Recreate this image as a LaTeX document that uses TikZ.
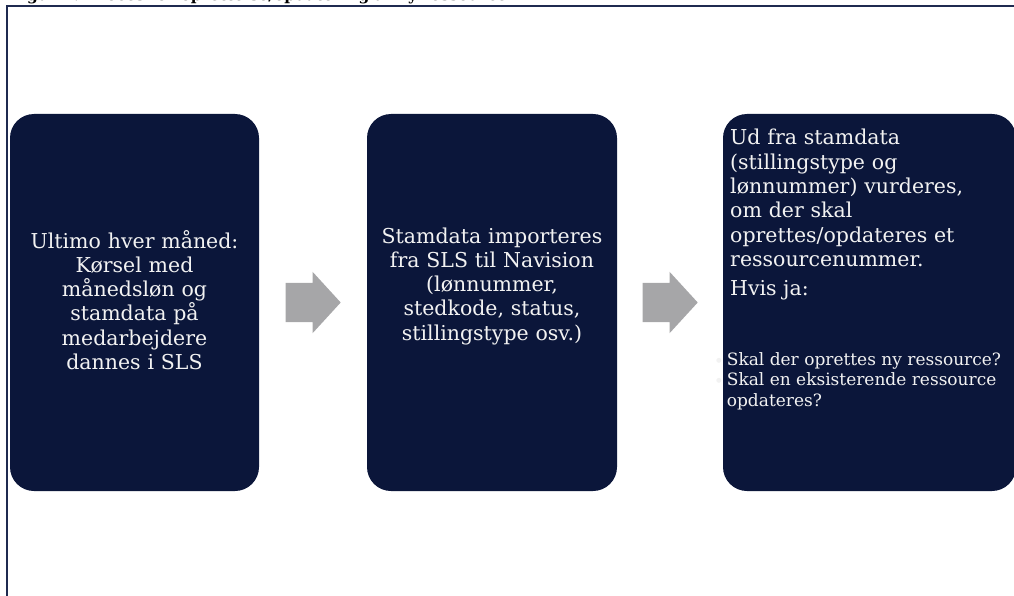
\documentclass[tikz,border=0pt]{standalone}
\usepackage{fontspec}
\setmainfont{DejaVu Serif}
\newfontfamily\symfont{DejaVu Sans}
\usetikzlibrary{shapes.arrows,calc}
\definecolor{boxfill}{HTML}{0B163A}
\definecolor{framecol}{HTML}{1F2A50}
\definecolor{arrowcol}{HTML}{A6A6A8}
\definecolor{txtcol}{HTML}{F2F2F2}
\newcommand{\mybul}{\raisebox{3pt}{\symfont\fontsize{6.5}{6.5}\selectfont ●}}
\begin{document}
\begin{tikzpicture}[x=1pt,y=-1pt,
  card/.style={fill=boxfill, rounded corners=24pt, inner sep=0pt, draw=none, minimum height=377pt},
  cardtext/.style={text=txtcol, inner sep=0pt, font=\fontsize{20.5}{24.3}\selectfont},
  smalltext/.style={text=txtcol, inner sep=0pt, font=\fontsize{17}{20.5}\selectfont},
  blockarrow/.style={single arrow, fill=arrowcol, draw=none, inner xsep=0pt, inner ysep=19.5pt,
    minimum height=55pt, single arrow head extend=11pt,
    single arrow tip angle=95, anchor=tail}]
\useasboundingbox (0,0) rectangle (1014,596);
\draw[framecol, line width=1.3pt] (7,640) -- (7,6) -- (1040,6);
\node[anchor=base west, inner sep=0pt, font=\fontsize{15.5}{18}\selectfont\bfseries] (title) at (10,1)
  {Figur 4: Proces for oprettelse/opdatering af ny ressource};
\node[card, minimum width=249pt] (b1) at (134.5,302.5) {};
\node[card, minimum width=250pt] (b2) at (492,302.5) {};
\node[card, minimum width=293pt] (b3) at (869.5,302.5) {};
\node[blockarrow] (a1) at ($($(b1.east)!0.5!(b2.west)$)+(-27.5,0)$) {};
\node[blockarrow] (a2) at ($($(b2.east)!0.5!(b3.west)$)+(-27.5,0)$) {};
\node[cardtext, anchor=base, text width=245pt, align=center] (t1) at (134.5,248)
  {Ultimo hver måned:\\Kørsel med\\månedsløn og\\stamdata på\\medarbejdere\\dannes i SLS};
\node[cardtext, anchor=base, text width=245pt, align=center] (t2) at (492,243)
  {Stamdata importeres\\fra SLS til Navision\\(lønnummer,\\stedkode, status,\\stillingstype osv.)};
\node[cardtext, anchor=base west, text width=280pt, align=left] (t3) at (730,145)
  {Ud fra stamdata\\(stillingstype og\\lønnummer) vurderes,\\om der skal\\oprettes/opdateres et\\ressourcenummer.};
\node[cardtext, anchor=base west] (t3b) at (730,295) {Hvis ja:};
\node[smalltext, anchor=base west] (t3c) at (716,365)
  {\begin{tabular}[t]{@{}l@{\hspace{5pt}}l@{}}
   \mybul & Skal der oprettes ny ressource?\\
   \mybul & Skal en eksisterende ressource\\
          & opdateres?
   \end{tabular}};
\end{tikzpicture}
\end{document}
